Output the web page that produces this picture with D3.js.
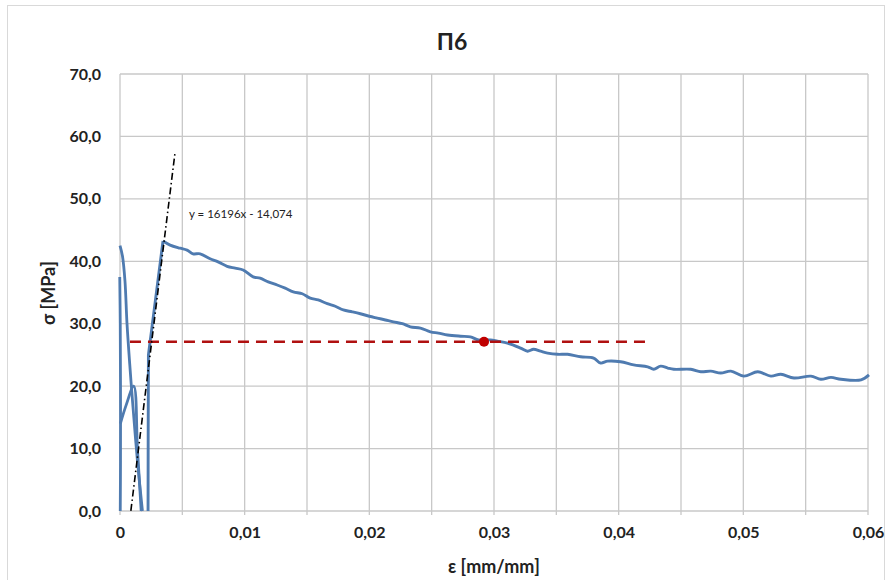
<!DOCTYPE html>
<html><head><meta charset="utf-8">
<script src="https://cdn.jsdelivr.net/npm/d3@7/dist/d3.min.js"></script>
<style>body{margin:0;background:#fff}svg{display:block}text{font-family:Lato,"Open Sans",sans-serif}</style>
</head><body><svg id="c" width="891" height="580"></svg>
<script>
// ---- data ----
const title = "П6";
const xTicks = [0, 0.01, 0.02, 0.03, 0.04, 0.05, 0.06];
const xTickLabels = ["0", "0,01", "0,02", "0,03", "0,04", "0,05", "0,06"];
const yTicks = [0, 10, 20, 30, 40, 50, 60, 70];
const yTickLabels = ["0,0", "10,0", "20,0", "30,0", "40,0", "50,0", "60,0", "70,0"];
// initial (noisy) start segments
const startEpsA = [-0.00002, 0.00002, 0.00004, 0.00004, 0.00002];
const startSigA = [37.5, 30, 20, 8, 0];
const startEpsB = [0.00003, 0.0005, 0.0011, 0.0014, 0.0017];
const startSigB = [14, 17, 20, 10, 0];
const startEpsC = [0.0000, 0.0002, 0.0004, 0.00056, 0.0008, 0.00104, 0.0014, 0.0018];
const startSigC = [42.5, 40.8, 36.8, 30.1, 23, 16.7, 8, 0];
// main loading curve (first 4 points: straight rise up to the peak)
const eps = [0.00225, 0.00226, 0.00228, 0.00345, 0.00402, 0.00482, 0.00538, 0.00586, 0.00643, 0.00723, 0.00787, 0.00859, 0.00924, 0.00988, 0.01068, 0.01124, 0.01189, 0.01261, 0.01325, 0.01390, 0.01462, 0.01526, 0.01590, 0.01663, 0.01727, 0.01791, 0.01863, 0.01928, 0.02000, 0.02064, 0.02129, 0.02193, 0.02265, 0.02329, 0.02410, 0.02490, 0.02554, 0.02627, 0.02731, 0.02811, 0.02876, 0.02972, 0.03028, 0.03108, 0.03213, 0.03269, 0.03317, 0.03373, 0.03430, 0.03510, 0.03590, 0.03695, 0.03799, 0.03855, 0.03912, 0.04016, 0.04120, 0.04233, 0.04281, 0.04337, 0.04394, 0.04442, 0.04578, 0.04659, 0.04739, 0.04819, 0.04900, 0.05004, 0.05116, 0.05221, 0.05301, 0.05406, 0.05542, 0.05622, 0.05703, 0.05783, 0.05944, 0.06008];
const sig = [0, 12, 25, 43.25, 42.6, 42.1, 41.8, 41.2, 41.2, 40.4, 39.9, 39.2, 38.9, 38.6, 37.5, 37.3, 36.7, 36.2, 35.7, 35.1, 34.8, 34.1, 33.8, 33.2, 32.8, 32.2, 31.9, 31.6, 31.2, 30.9, 30.6, 30.3, 30.0, 29.5, 29.3, 28.7, 28.5, 28.2, 28.0, 27.9, 27.4, 27.4, 27.2, 26.9, 26.1, 25.6, 25.9, 25.6, 25.3, 25.1, 25.1, 24.7, 24.5, 23.7, 24.0, 23.9, 23.4, 23.1, 22.7, 23.2, 22.9, 22.7, 22.7, 22.3, 22.4, 22.1, 22.4, 21.6, 22.3, 21.6, 21.9, 21.3, 21.6, 21.1, 21.4, 21.1, 21.0, 21.8];
const peakIndex = 3;
// linear fit y = 16196x - 14,074
const fitSlope = 16196, fitIntercept = -14.074;
const fitEpsRange = [0.00087, 0.00441];
const fitLabel = "y = 16196x - 14,074";
// reference level and marked point
const refSigma = 27.1;
const refEpsRange = [0.0008, 0.0422];
const markEps = 0.0292, markSig = 27.1;

// ---- drawing ----
const svg = d3.select("#c");
const m = {l:120, r:868, t:74, b:511};
const x = d3.scaleLinear().domain([0, 0.06]).range([m.l, m.r]);
const y = d3.scaleLinear().domain([0, 70]).range([m.b, m.t]);

svg.append("rect").attr("x",7.5).attr("y",5.5).attr("width",877).attr("height",600)
  .attr("fill","none").attr("stroke","#d9d9d9").attr("stroke-width",1);

const grid = svg.append("g").attr("stroke","#c8c8c8").attr("stroke-width",1.3);
d3.range(0, 0.0601, 0.005).forEach(v => grid.append("line").attr("x1",x(v)).attr("x2",x(v)).attr("y1",m.t).attr("y2",m.b+4));
yTicks.forEach(v => grid.append("line").attr("x1",m.l).attr("x2",m.r).attr("y1",y(v)).attr("y2",y(v)));

const xa = svg.append("g").attr("transform",`translate(0,${m.b})`)
  .call(d3.axisBottom(x).tickValues(xTicks).tickFormat((d,i)=>xTickLabels[i]).tickSize(0).tickPadding(16));
xa.select(".domain").remove();
xa.selectAll("text").attr("font-size",16).attr("font-weight","bold").attr("fill","#222").attr("font-family","Lato, sans-serif");
const ya = svg.append("g").attr("transform",`translate(${m.l},0)`)
  .call(d3.axisLeft(y).tickValues(yTicks).tickFormat((d,i)=>yTickLabels[i]).tickSize(0).tickPadding(19));
ya.select(".domain").remove();
ya.selectAll("text").attr("font-size",16).attr("font-weight","bold").attr("fill","#222").attr("font-family","Lato, sans-serif");

svg.append("text").attr("x",452).attr("y",50).attr("text-anchor","middle")
  .attr("font-size",23).attr("font-weight","bold").attr("fill","#222").text(title);
svg.append("text").attr("x",494).attr("y",573).attr("text-anchor","middle")
  .attr("font-size",18).attr("font-weight","bold").attr("fill","#222").text("ε [mm/mm]");
svg.append("text").attr("transform","translate(55,293) rotate(-90)").attr("text-anchor","middle")
  .attr("font-size",18).attr("font-weight","bold").attr("fill","#222").text("σ [MPa]");

const line = d3.line().x(d=>x(d[0])).y(d=>y(d[1]));
const lineS = d3.line().x(d=>x(d[0])).y(d=>y(d[1])).curve(d3.curveCatmullRom.alpha(0.5));
const blue = "#4f7bb0";
[[startEpsA,startSigA],[startEpsB,startSigB],[startEpsC,startSigC]].forEach(([e,s]) => {
  svg.append("path").datum(e.map((v,i)=>[v,s[i]])).attr("d",lineS)
    .attr("fill","none").attr("stroke",blue).attr("stroke-width",2.8);
});
const mainPts = eps.map((v,i)=>[v,sig[i]]);
svg.append("path").datum(mainPts.slice(0, peakIndex+1)).attr("d",line)
  .attr("fill","none").attr("stroke",blue).attr("stroke-width",2.9).attr("stroke-linejoin","round");
svg.append("path").datum(mainPts.slice(peakIndex)).attr("d",lineS)
  .attr("fill","none").attr("stroke",blue).attr("stroke-width",2.9).attr("stroke-linejoin","round");

// red dashed reference
svg.append("line").attr("x1",x(refEpsRange[0])).attr("x2",x(refEpsRange[1]))
  .attr("y1",y(refSigma)).attr("y2",y(refSigma))
  .attr("stroke","#b01010").attr("stroke-width",2.6).attr("stroke-dasharray","11,7");
svg.append("circle").attr("cx",x(markEps)).attr("cy",y(markSig)).attr("r",5).attr("fill","#c00000");

// fit line
svg.append("path").datum(fitEpsRange.map(e=>[e, fitSlope*e+fitIntercept])).attr("d",line)
  .attr("fill","none").attr("stroke","#000").attr("stroke-width",1.6).attr("stroke-dasharray","7,3,1.5,3");
svg.append("text").attr("x",189).attr("y",218).attr("font-size",11.5).attr("fill","#222").text(fitLabel);
</script></body></html>
